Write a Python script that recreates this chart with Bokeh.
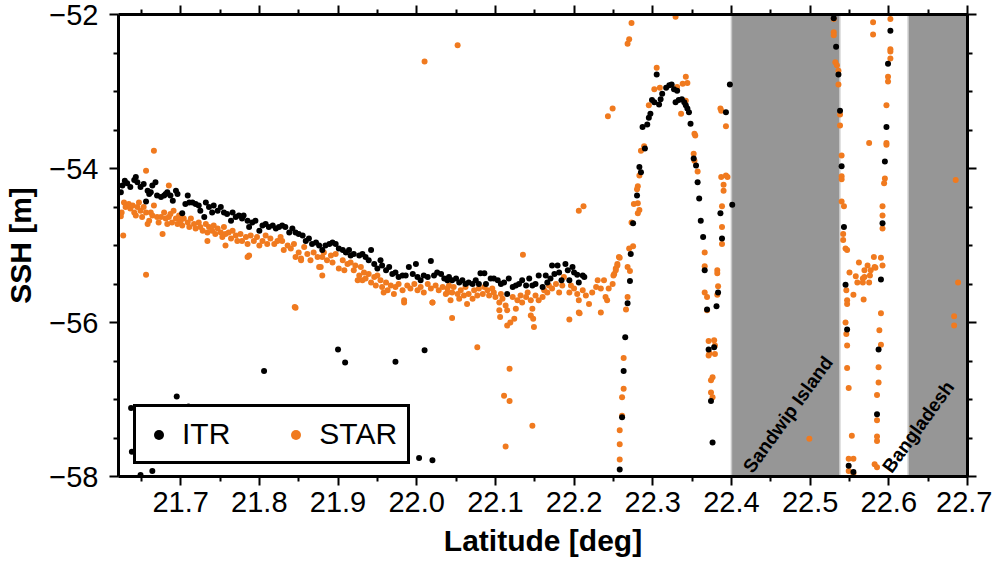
from bokeh.plotting import figure
from bokeh.models import (FixedTicker, LinearAxis, Legend, LegendItem,
                          PrintfTickFormatter, Range1d, ColumnDataSource)
from bokeh.core.properties import value
from bokeh.embed import file_html
from bokeh.resources import INLINE

# ---------------- data (latitude [deg], SSH [m]) ----------------
itr_band_west = [
    (21.624, -54.31), (21.626, -54.22), (21.629, -54.16), (21.632, -54.19), (21.636, -54.24),
    (21.641, -54.15), (21.643, -54.11), (21.645, -54.18), (21.649, -54.24), (21.653, -54.20),
    (21.656, -54.43), (21.658, -54.29), (21.660, -54.33), (21.662, -54.31), (21.664, -54.22),
    (21.668, -54.18), (21.670, -54.35), (21.675, -54.37), (21.679, -54.35), (21.681, -54.33),
    (21.683, -54.31), (21.687, -54.35), (21.690, -54.42), (21.694, -54.29), (21.696, -54.33),
    (21.702, -54.58), (21.706, -54.46), (21.709, -54.35), (21.711, -54.44), (21.715, -54.44),
    (21.719, -54.46), (21.723, -54.48), (21.725, -54.55), (21.730, -54.63), (21.732, -54.44),
    (21.736, -54.50), (21.740, -54.57), (21.742, -54.48), (21.747, -54.55), (21.751, -54.50),
    (21.755, -54.57), (21.759, -54.59), (21.764, -54.68), (21.766, -54.57), (21.770, -54.63),
    (21.774, -54.61), (21.778, -54.65), (21.780, -54.61), (21.785, -54.68), (21.787, -54.76),
    (21.791, -54.70), (21.795, -54.68), (21.800, -54.81), (21.804, -54.74), (21.808, -54.72),
    (21.812, -54.76), (21.817, -54.74), (21.821, -54.78), (21.825, -54.76),
]
itr_band_mid = [
    (21.829, -54.74), (21.833, -54.76), (21.838, -54.83), (21.842, -54.78), (21.846, -54.83),
    (21.850, -54.85), (21.855, -54.87), (21.859, -54.94), (21.863, -54.91), (21.867, -54.98),
    (21.872, -54.96), (21.876, -55.00), (21.880, -55.06), (21.884, -55.00), (21.889, -54.98),
    (21.893, -54.96), (21.897, -54.98), (21.901, -55.04), (21.906, -55.06), (21.910, -55.09),
    (21.914, -55.06), (21.916, -55.13), (21.920, -55.11), (21.927, -55.13), (21.931, -55.11),
    (21.935, -55.15), (21.939, -55.19), (21.942, -55.06), (21.946, -55.24), (21.950, -55.30),
    (21.954, -55.19), (21.956, -55.26), (21.961, -55.32), (21.965, -55.28), (21.969, -55.37),
    (21.973, -55.35), (21.977, -55.41), (21.982, -55.39), (21.986, -55.39), (21.990, -55.28),
    (21.995, -55.37), (21.999, -55.24), (22.001, -55.41), (22.005, -55.45), (22.009, -55.39),
    (22.014, -55.41), (22.018, -55.20), (22.022, -55.39), (22.026, -55.35), (22.031, -55.37),
    (22.035, -55.43), (22.039, -55.45),
]
itr_band_east = [
    (22.041, -55.41), (22.045, -55.45), (22.050, -55.43), (22.054, -55.48), (22.058, -55.45),
    (22.062, -55.50), (22.066, -55.48), (22.071, -55.50), (22.075, -55.45), (22.079, -55.50),
    (22.081, -55.36), (22.086, -55.36), (22.088, -55.50), (22.094, -55.43), (22.098, -55.43),
    (22.103, -55.45), (22.107, -55.50), (22.111, -55.48), (22.115, -55.63), (22.117, -55.43),
    (22.122, -55.54), (22.126, -55.52), (22.130, -55.50), (22.134, -55.45), (22.139, -55.52),
    (22.143, -55.43), (22.147, -55.52), (22.151, -55.50), (22.155, -55.39), (22.160, -55.54),
    (22.164, -55.39), (22.166, -55.48), (22.170, -55.43), (22.172, -55.26), (22.175, -55.37),
    (22.179, -55.26), (22.181, -55.35), (22.184, -55.45), (22.189, -55.24), (22.192, -55.32),
    (22.194, -55.45), (22.198, -55.28), (22.200, -55.35), (22.204, -55.38), (22.206, -55.48),
    (22.211, -55.39), (22.213, -55.41),
]
itr_outliers = [
    (21.637, -57.11), (21.695, -56.96), (21.710, -57.09), (21.792, -57.10), (21.806, -56.63),
    (21.900, -56.35), (21.909, -56.52), (21.973, -56.51), (22.010, -56.36), (22.003, -57.76),
    (22.020, -57.79), (21.638, -57.68), (21.664, -57.93), (21.649, -57.98),
]
itr_coast = [
    (22.305, -52.78), (22.302, -53.14), (22.299, -53.11), (22.308, -53.17), (22.310, -53.10),
    (22.312, -53.03), (22.317, -52.95), (22.321, -52.92), (22.324, -52.91), (22.327, -52.97),
    (22.331, -52.99), (22.329, -53.14), (22.333, -53.11), (22.337, -53.10), (22.340, -53.14),
    (22.342, -53.18), (22.344, -53.22), (22.346, -53.27), (22.297, -53.29), (22.295, -53.34),
    (22.293, -53.43), (22.287, -53.46), (22.290, -53.74), (22.348, -53.42), (22.352, -53.87),
    (22.355, -53.96), (22.357, -54.18), (22.283, -53.98), (22.285, -54.05), (22.280, -54.35),
    (22.275, -54.71), (22.359, -54.39), (22.361, -54.68), (22.364, -54.89), (22.272, -55.11),
    (22.271, -55.46), (22.268, -55.75), (22.265, -56.19), (22.263, -56.63), (22.261, -57.23),
    (22.258, -57.91), (22.398, -52.91), (22.393, -53.27), (22.401, -54.47), (22.386, -54.58),
    (22.388, -54.91), (22.366, -55.32), (22.383, -55.61), (22.381, -55.79), (22.369, -55.83),
    (22.371, -56.35), (22.378, -56.32), (22.374, -57.02), (22.376, -57.56),
    (22.530, -52.05), (22.533, -52.42), (22.536, -52.78), (22.538, -53.25), (22.540, -53.97),
    (22.543, -54.76), (22.545, -55.51), (22.547, -56.09), (22.549, -57.86), (22.555, -57.94),
    (22.590, -55.44), (22.602, -52.21), (22.599, -52.64), (22.597, -53.46), (22.595, -53.91),
    (22.592, -54.71), (22.587, -56.35), (22.585, -57.19),
]

star_band_west = [
    (21.628, -54.44), (21.630, -54.50), (21.625, -54.57), (21.624, -54.62), (21.627, -54.87),
    (21.634, -54.46), (21.636, -54.52), (21.639, -54.48), (21.641, -54.57), (21.643, -54.61),
    (21.645, -54.50), (21.647, -54.44), (21.649, -54.55), (21.651, -54.63), (21.653, -54.50),
    (21.656, -54.57), (21.658, -54.72), (21.660, -54.68), (21.662, -54.57), (21.664, -54.61),
    (21.666, -54.48), (21.670, -54.63), (21.672, -54.70), (21.675, -54.63), (21.677, -54.85),
    (21.679, -54.57), (21.681, -54.65), (21.683, -54.72), (21.685, -54.63), (21.687, -54.59),
    (21.689, -54.70), (21.691, -54.55), (21.694, -54.65), (21.696, -54.72), (21.698, -54.61),
    (21.700, -54.68), (21.702, -54.74), (21.704, -54.65), (21.709, -54.70), (21.711, -54.76),
    (21.713, -54.65), (21.717, -54.72), (21.719, -54.78), (21.723, -54.70), (21.725, -54.76),
    (21.728, -54.81), (21.732, -54.72), (21.734, -54.83), (21.736, -54.76), (21.740, -54.81),
    (21.742, -54.74), (21.744, -54.85), (21.747, -54.78), (21.751, -54.83), (21.753, -54.89),
    (21.755, -54.76), (21.757, -54.85), (21.761, -54.83), (21.764, -54.91), (21.766, -54.81),
    (21.770, -54.87), (21.772, -54.94), (21.776, -54.85), (21.778, -54.94), (21.783, -54.89),
    (21.785, -54.98), (21.787, -55.13), (21.789, -54.87), (21.793, -54.94), (21.797, -54.89),
    (21.800, -55.00), (21.804, -54.94), (21.808, -54.87), (21.810, -54.98), (21.814, -54.91),
    (21.819, -54.98), (21.823, -54.94), (21.827, -54.89),
    (21.734, -54.94), (21.757, -55.00), (21.785, -55.15),
]
star_band_mid = [
    (21.829, -54.94), (21.831, -55.06), (21.836, -55.00), (21.840, -55.04), (21.844, -54.98),
    (21.846, -55.15), (21.850, -55.09), (21.853, -55.19), (21.857, -55.02), (21.861, -55.11),
    (21.865, -55.19), (21.869, -55.09), (21.874, -55.15), (21.876, -55.28), (21.880, -55.15),
    (21.882, -55.09), (21.886, -55.19), (21.891, -55.13), (21.893, -55.22), (21.897, -55.11),
    (21.901, -55.30), (21.906, -55.19), (21.908, -55.32), (21.912, -55.24), (21.916, -55.22),
    (21.920, -55.32), (21.922, -55.26), (21.927, -55.39), (21.929, -55.28), (21.931, -55.45),
    (21.933, -55.35), (21.935, -55.43), (21.939, -55.37), (21.942, -55.48), (21.946, -55.41),
    (21.948, -55.52), (21.950, -55.39), (21.954, -55.45), (21.956, -55.54), (21.961, -55.48),
    (21.963, -55.58), (21.967, -55.52), (21.971, -55.63), (21.973, -55.54), (21.977, -55.50),
    (21.982, -55.58), (21.984, -55.71), (21.988, -55.52), (21.992, -55.56), (21.997, -55.50),
    (22.001, -55.58), (22.005, -55.54), (22.009, -55.61), (22.014, -55.50), (22.018, -55.56),
    (22.020, -55.74), (22.024, -55.52), (22.028, -55.58), (22.033, -55.54), (22.037, -55.63),
    (22.039, -55.56), (21.880, -55.39), (21.845, -55.80), (21.984, -55.74),
    (21.853, -55.17), (21.878, -55.28), (21.925, -55.45), (21.958, -55.61), (22.020, -55.74),
]
star_band_east = [
    (22.039, -55.61), (22.041, -55.52), (22.043, -55.71), (22.045, -55.61), (22.047, -55.54),
    (22.052, -55.63), (22.054, -55.69), (22.056, -55.58), (22.060, -55.65), (22.062, -55.54),
    (22.064, -55.76), (22.066, -55.63), (22.071, -55.69), (22.073, -55.58), (22.077, -55.65),
    (22.079, -55.56), (22.084, -55.63), (22.086, -55.54), (22.090, -55.58), (22.092, -55.65),
    (22.096, -55.56), (22.098, -55.61), (22.100, -55.67), (22.105, -55.74), (22.105, -55.84),
    (22.106, -55.93), (22.107, -55.63), (22.109, -55.69), (22.113, -55.78), (22.115, -55.84),
    (22.115, -56.04), (22.119, -56.00), (22.122, -55.67), (22.124, -55.95), (22.126, -55.82),
    (22.128, -55.71), (22.132, -55.65), (22.134, -55.74), (22.139, -55.67), (22.141, -55.61),
    (22.145, -55.71), (22.147, -55.82), (22.145, -55.91), (22.148, -55.95), (22.149, -56.06),
    (22.151, -55.65), (22.155, -55.71), (22.160, -55.67), (22.162, -55.58), (22.166, -55.61),
    (22.168, -55.52), (22.172, -55.56), (22.177, -55.50), (22.181, -55.61), (22.185, -55.52),
    (22.187, -55.41), (22.194, -55.61), (22.196, -55.52), (22.200, -55.56), (22.204, -55.63),
    (22.206, -55.71), (22.211, -55.58), (22.215, -55.65), (22.219, -55.76), (22.223, -55.61),
    (22.228, -55.54), (22.230, -55.45), (22.234, -55.56), (22.238, -55.45), (22.240, -55.67),
    (22.242, -55.71), (22.244, -55.56), (22.249, -55.50), (22.251, -55.37), (22.253, -55.30),
    (22.255, -55.24), (22.257, -55.15), (22.206, -55.87), (22.194, -55.96), (22.234, -55.87),
]
star_outliers = [
    (21.666, -53.77), (21.656, -54.03), (21.685, -54.22), (21.656, -55.38), (21.846, -55.81),
    (22.135, -55.12), (22.077, -56.32), (22.045, -55.94), (22.118, -56.60), (22.111, -56.95),
    (22.118, -57.02), (22.147, -57.34), (22.113, -57.61), (22.207, -55.88), (22.010, -52.61),
    (22.052, -52.40), (22.206, -54.55), (22.212, -54.49),
]
star_coast = [
    (22.270, -52.32), (22.268, -52.38), (22.329, -52.03), (22.273, -52.11), (22.249, -53.22),
    (22.243, -53.32), (22.305, -52.69), (22.302, -52.97), (22.309, -52.95), (22.342, -52.81),
    (22.344, -52.89), (22.338, -52.90), (22.331, -52.94), (22.336, -53.29), (22.342, -53.12),
    (22.295, -53.18), (22.386, -53.22), (22.387, -53.25), (22.393, -53.45), (22.353, -53.55),
    (22.354, -53.57), (22.289, -53.71), (22.285, -53.77), (22.352, -53.81), (22.353, -53.90),
    (22.357, -54.04), (22.283, -54.09), (22.281, -54.23), (22.280, -54.27), (22.276, -54.46),
    (22.281, -54.45), (22.283, -54.54), (22.281, -54.58), (22.273, -54.70), (22.387, -54.11),
    (22.393, -54.09), (22.395, -54.11), (22.390, -54.21), (22.390, -54.29), (22.388, -54.49),
    (22.388, -54.76), (22.388, -54.98), (22.275, -55.01), (22.270, -55.04), (22.258, -55.16),
    (22.255, -55.26), (22.253, -55.32), (22.250, -55.39), (22.268, -55.28), (22.271, -55.33),
    (22.366, -55.09), (22.366, -55.27), (22.382, -55.32), (22.382, -55.36), (22.268, -55.67),
    (22.266, -55.83), (22.366, -55.61), (22.369, -55.67), (22.369, -55.84), (22.382, -55.64),
    (22.383, -55.53), (22.263, -56.46), (22.371, -56.24), (22.371, -56.43), (22.372, -56.40),
    (22.378, -56.23), (22.379, -56.30), (22.379, -56.41), (22.376, -56.71), (22.374, -56.75),
    (22.376, -56.97), (22.374, -56.91), (22.263, -56.86), (22.261, -56.97), (22.261, -57.21),
    (22.258, -57.40), (22.258, -57.58), (22.258, -57.78),
    (22.530, -52.06), (22.530, -52.23), (22.530, -52.27), (22.532, -52.62), (22.534, -52.66),
    (22.536, -52.73), (22.536, -52.91), (22.538, -53.30), (22.538, -53.44), (22.540, -53.83),
    (22.540, -54.10), (22.540, -54.14), (22.540, -54.43), (22.543, -54.49), (22.542, -54.85),
    (22.542, -54.93), (22.545, -55.04), (22.547, -55.06), (22.550, -55.35), (22.546, -55.58),
    (22.547, -55.71), (22.547, -55.76), (22.545, -56.00), (22.546, -56.15), (22.547, -56.30),
    (22.547, -56.59), (22.549, -56.85), (22.553, -57.47), (22.549, -57.77), (22.555, -57.77),
    (22.549, -57.93), (22.555, -57.96),
    (22.562, -55.22), (22.558, -55.40), (22.560, -55.48), (22.555, -55.64), (22.568, -55.70),
    (22.569, -55.32), (22.573, -55.26), (22.575, -55.48), (22.577, -55.32), (22.581, -55.15),
    (22.582, -55.28), (22.590, -55.16), (22.592, -55.26), (22.569, -55.41), (22.567, -55.43),
    (22.567, -55.48), (22.583, -55.29), (22.576, -55.39), (22.575, -53.67), (22.580, -52.10),
    (22.580, -52.26),
    (22.602, -52.06), (22.602, -52.45), (22.602, -52.48), (22.602, -52.57), (22.599, -52.81),
    (22.599, -52.87), (22.597, -53.18), (22.597, -53.67), (22.597, -53.69), (22.595, -54.13),
    (22.594, -54.19), (22.592, -54.49), (22.592, -54.61), (22.592, -54.78), (22.590, -55.88),
    (22.588, -56.10), (22.590, -56.29), (22.587, -56.58), (22.587, -56.78), (22.585, -56.94),
    (22.585, -57.27), (22.585, -57.48), (22.585, -57.54), (22.582, -57.84), (22.585, -57.88),
    (22.499, -57.51), (22.685, -54.15), (22.688, -55.48), (22.683, -55.92), (22.683, -56.04),
]

# land masks
land_west = [22.400, 22.6246]
land_east = [22.5377, 22.700]
land_bottom = [-58.0, -58.0]
land_top = [-52.0, -52.0]
land_label_lat = [22.420, 22.597]
land_label_ssh = [-57.92, -57.92]
land_label_text = ["Sandwip Island", "Bangladesh"]

x_major = [21.7, 21.8, 21.9, 22.0, 22.1, 22.2, 22.3, 22.4, 22.5, 22.6, 22.7]
x_minor = [21.65, 21.75, 21.85, 21.95, 22.05, 22.15, 22.25, 22.35, 22.45, 22.55, 22.65]
y_major = [-58, -56, -54, -52]
y_major_labels = ["\u221258", "\u221256", "\u221254", "\u221252"]
y_minor = [-57.5, -57, -56.5, -55.5, -55, -54.5, -53.5, -53, -52.5]

ITR_COLOR = "#000000"
STAR_COLOR = "#f07a1f"
FONT = "Liberation Sans"


def unzip(*segments):
    pts = [pt for seg in segments for pt in seg]
    return [a for a, _ in pts], [b for _, b in pts]


itr_lat, itr_ssh = unzip(itr_band_west, itr_band_mid, itr_band_east, itr_outliers, itr_coast)
star_lat, star_ssh = unzip(star_band_west, star_band_mid, star_band_east, star_outliers, star_coast)

p = figure(frame_width=849, frame_height=462,
           x_range=Range1d(21.621, 22.7), y_range=Range1d(-58, -52),
           output_backend="svg", toolbar_location=None,
           min_border_left=118, min_border_right=25, min_border_top=14, min_border_bottom=79,
           background_fill_color="white", border_fill_color="white",
           outline_line_color=None)
p.xgrid.visible = False
p.ygrid.visible = False

# land
p.quad(left=land_west, right=land_east, bottom=land_bottom, top=land_top,
       fill_color="#969696", line_color="#c8c8c8", line_width=1.5)

star_r = p.scatter(star_lat, star_ssh, size=6, fill_color=STAR_COLOR, line_color=None)
itr_r = p.scatter(itr_lat, itr_ssh, size=6, fill_color=ITR_COLOR, line_color=None)

lab_src = ColumnDataSource(dict(x=land_label_lat, y=land_label_ssh, t=land_label_text))
p.text(x="x", y="y", text="t", source=lab_src, angle=54, angle_units="deg",
       text_font=value(FONT), text_font_style="bold", text_font_size="19px",
       text_align="left", text_baseline="alphabetic", text_color="black")

xt = FixedTicker(ticks=x_major, minor_ticks=x_minor)
yt = FixedTicker(ticks=y_major, minor_ticks=y_minor)


def style(ax, ticker, show_labels):
    ax.ticker = ticker
    ax.axis_line_width = 3
    ax.axis_line_color = "black"
    ax.major_tick_line_width = 2
    ax.minor_tick_line_width = 2
    ax.major_tick_line_color = "black"
    ax.minor_tick_line_color = "black"
    ax.major_tick_in = 0
    ax.minor_tick_in = 0
    ax.major_tick_out = 9
    ax.minor_tick_out = 5
    ax.major_label_text_font = FONT
    ax.major_label_text_color = "black"
    if show_labels:
        ax.major_label_text_font_size = "29px"
    else:
        ax.major_label_overrides = {t: "" for t in ticker.ticks}
        ax.major_label_text_font_size = "1px"
        ax.major_label_standoff = 0


bx = p.xaxis[0]
style(bx, xt, True)
bx.formatter = PrintfTickFormatter(format="%.1f")
bx.major_label_standoff = 6
bx.axis_label = "Latitude [deg]"
bx.axis_label_text_font = FONT
bx.axis_label_text_font_style = "bold"
bx.axis_label_text_font_size = "30px"
bx.axis_label_text_color = "black"
bx.axis_label_standoff = 9

ly = p.yaxis[0]
style(ly, yt, True)
ly.major_label_overrides = dict(zip(y_major, y_major_labels))
ly.major_label_standoff = 11
ly.axis_label = "SSH [m]"
ly.axis_label_text_font = FONT
ly.axis_label_text_font_style = "bold"
ly.axis_label_text_font_size = "30px"
ly.axis_label_text_color = "black"
ly.axis_label_standoff = 9

top = LinearAxis()
style(top, xt, False)
p.add_layout(top, "above")
right = LinearAxis()
style(right, yt, False)
p.add_layout(right, "right")

legend = Legend(items=[LegendItem(label="ITR", renderers=[itr_r]),
                       LegendItem(label="STAR", renderers=[star_r])],
                location=(15, 12), orientation="horizontal",
                label_text_font=FONT, label_text_font_size="30px",
                label_text_color="black",
                glyph_width=25, glyph_height=25, label_standoff=11,
                spacing=53, padding=10, margin=0,
                border_line_color="black", border_line_width=3, border_line_alpha=1.0,
                background_fill_color="white", background_fill_alpha=1.0)
p.add_layout(legend)

open("out.html", "w").write(file_html(p, INLINE))
